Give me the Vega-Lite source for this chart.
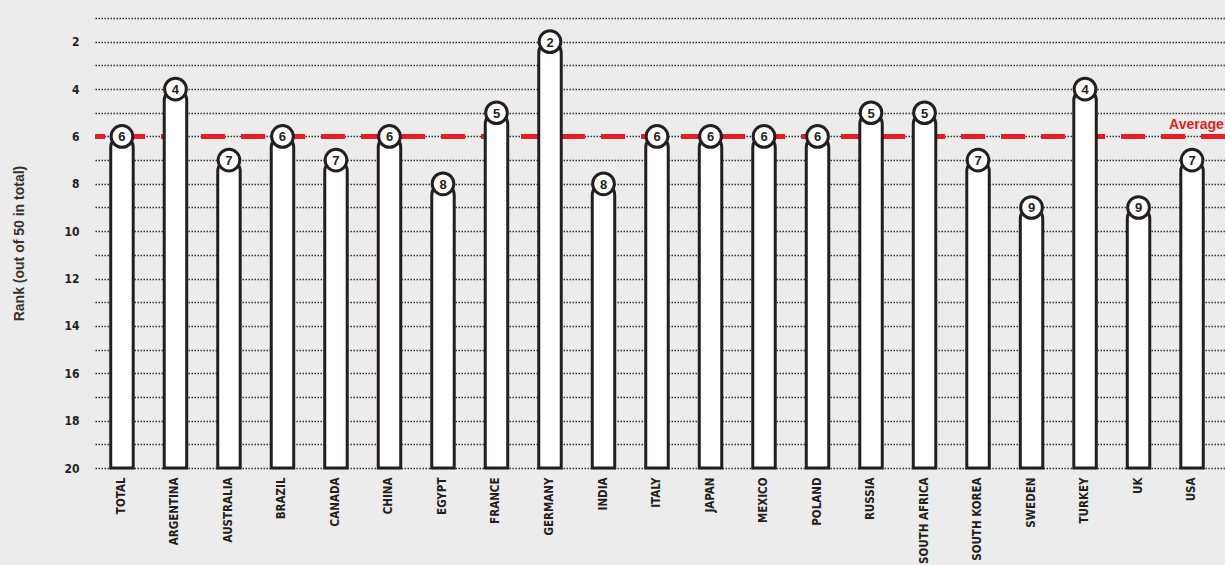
{
  "$schema": "https://vega.github.io/schema/vega-lite/v6.json",
  "autosize": "none",
  "width": 1130,
  "height": 450,
  "padding": {"left": 95, "top": 18, "right": 0, "bottom": 97},
  "background": "#ececed",
  "config": {"view": {"stroke": null}},
  "data": {"values": [
    {"country": "TOTAL", "rank": 6},
    {"country": "ARGENTINA", "rank": 4},
    {"country": "AUSTRALIA", "rank": 7},
    {"country": "BRAZIL", "rank": 6},
    {"country": "CANADA", "rank": 7},
    {"country": "CHINA", "rank": 6},
    {"country": "EGYPT", "rank": 8},
    {"country": "FRANCE", "rank": 5},
    {"country": "GERMANY", "rank": 2},
    {"country": "INDIA", "rank": 8},
    {"country": "ITALY", "rank": 6},
    {"country": "JAPAN", "rank": 6},
    {"country": "MEXICO", "rank": 6},
    {"country": "POLAND", "rank": 6},
    {"country": "RUSSIA", "rank": 5},
    {"country": "SOUTH AFRICA", "rank": 5},
    {"country": "SOUTH KOREA", "rank": 7},
    {"country": "SWEDEN", "rank": 9},
    {"country": "TURKEY", "rank": 4},
    {"country": "UK", "rank": 9},
    {"country": "USA", "rank": 7}
  ]},
  "encoding": {
    "x": {
      "field": "country", "type": "nominal", "sort": null,
      "scale": {"paddingInner": 0.58, "paddingOuter": 0.35, "align": 0.42},
      "axis": {
        "title": null, "labelAngle": -90, "labelAlign": "right", "labelBaseline": "middle",
        "labelFont": "DejaVu Sans Condensed, Liberation Sans, sans-serif", "labelFontWeight": "bold", "labelFontSize": 11.5,
        "labelColor": "#231f20", "labelPadding": 9, "ticks": false, "domain": false, "grid": false
      }
    },
    "y": {
      "field": "rank", "type": "quantitative",
      "scale": {"domain": [1, 20], "reverse": true, "nice": false, "zero": false},
      "axis": {
        "values": [1,2,3,4,5,6,7,8,9,10,11,12,13,14,15,16,17,18,19,20],
        "labelExpr": "datum.value % 2 == 0 ? '' + datum.value : ''",
        "labelOverlap": false,
        "labelFlush": false,
        "title": "Rank (out of 50 in total)", "titleFont": "Liberation Sans", "titleFontSize": 14,
        "titleFontWeight": "bold", "titleColor": "#333333", "titlePadding": 37,
        "labelFont": "DejaVu Sans Condensed, Liberation Sans, sans-serif", "labelFontWeight": "bold", "labelFontSize": 12,
        "labelColor": "#231f20", "labelPadding": 16,
        "ticks": false, "domain": false,
        "grid": true, "gridColor": "#333333", "gridDash": [1.5, 1.5], "gridWidth": 1.5, "gridOpacity": 1
      }
    }
  },
  "layer": [
    {
      "mark": {"type": "rule", "stroke": "#e31e24", "strokeWidth": 4, "strokeDash": [24, 16]},
      "encoding": {
        "x": null,
        "y": {"datum": 6, "type": "quantitative"}
      }
    },
    {
      "mark": {"type": "bar", "fill": "#ffffff", "stroke": "#231f20", "strokeWidth": 3,
               "cornerRadiusTopLeft": 11, "cornerRadiusTopRight": 11},
      "encoding": {
        "y2": {"datum": 20}
      }
    },
    {
      "mark": {"type": "point", "shape": "circle", "filled": true, "fill": "#ffffff", "stroke": "#231f20",
               "strokeWidth": 3, "size": 470, "opacity": 1},
      "encoding": {}
    },
    {
      "mark": {"type": "text", "font": "Liberation Sans", "fontWeight": "bold", "fontSize": 13,
               "color": "#231f20", "baseline": "middle", "align": "center", "dy": 1},
      "encoding": {
        "text": {"field": "rank"}
      }
    },
    {
      "data": {"values": [{"label": "Average", "country": "USA", "rank": 6}]},
      "mark": {"type": "text", "font": "Liberation Sans", "fontWeight": "bold", "fontSize": 14,
               "color": "#e31e24", "align": "left", "baseline": "bottom", "dx": -23, "dy": -4},
      "encoding": {
        "text": {"field": "label"}
      }
    }
  ]
}
